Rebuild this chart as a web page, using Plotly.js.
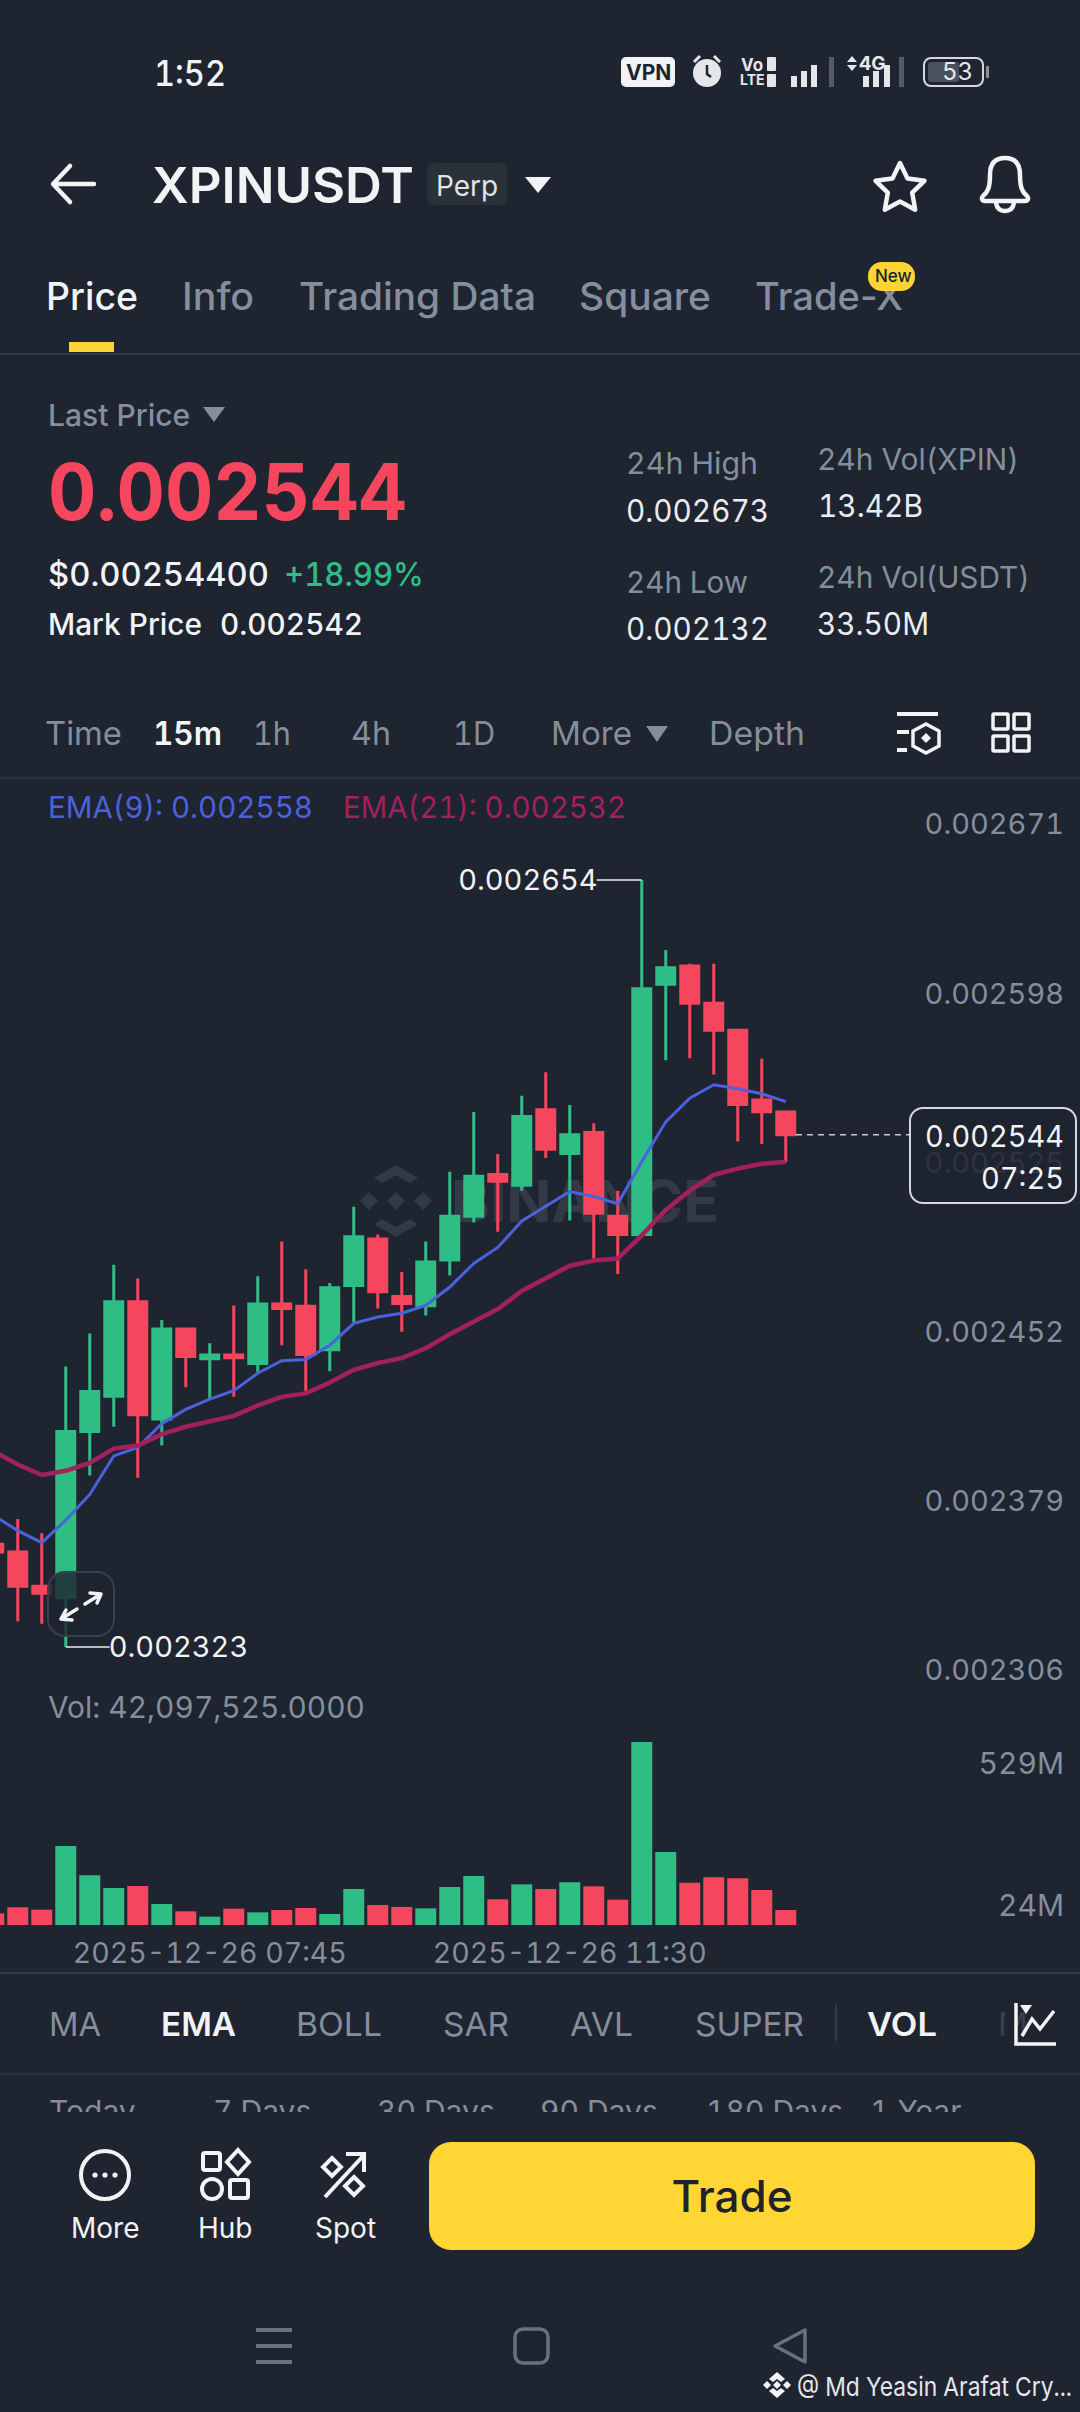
<!DOCTYPE html>
<html><head><meta charset="utf-8">
<script src="https://cdn.plot.ly/plotly-3.0.1.min.js"></script>
<style>
html,body{margin:0;padding:0;background:#1E2430;width:1080px;height:2412px;overflow:hidden}
#app{position:relative;width:1080px;height:2412px;background:#1E2430;font-family:Inter,"Noto Sans",sans-serif;overflow:hidden;font-feature-settings:"tnum" 1}
.t{position:absolute;white-space:nowrap;transform:translateY(-50%);line-height:1;transform-origin:left center}
.r{position:absolute}
svg{position:absolute;overflow:visible}
#chart{position:absolute;left:0;top:780px;width:1080px;height:1192px;z-index:2}
.ytick{transform:translateY(4px)}
.y2tick{transform:translateY(8px)}
</style></head><body>
<div id="app"><div id="chart"></div></div>
<script>
// ---------- chart data (prices in millionths of USDT, volumes in millions) ----------
const times = ["2025-12-26 05:30","2025-12-26 05:45","2025-12-26 06:00","2025-12-26 06:15","2025-12-26 06:30","2025-12-26 06:45","2025-12-26 07:00","2025-12-26 07:15","2025-12-26 07:30","2025-12-26 07:45","2025-12-26 08:00","2025-12-26 08:15","2025-12-26 08:30","2025-12-26 08:45","2025-12-26 09:00","2025-12-26 09:15","2025-12-26 09:30","2025-12-26 09:45","2025-12-26 10:00","2025-12-26 10:15","2025-12-26 10:30","2025-12-26 10:45","2025-12-26 11:00","2025-12-26 11:15","2025-12-26 11:30","2025-12-26 11:45","2025-12-26 12:00","2025-12-26 12:15","2025-12-26 12:30","2025-12-26 12:45","2025-12-26 13:00","2025-12-26 13:15","2025-12-26 13:30","2025-12-26 13:45"];
const openMicro  = [2367.3,2364,2349.2,2344.2,2416,2431.2,2472,2421.3,2460.2,2447.3,2449,2445.3,2471,2470,2451.2,2479,2499,2474.2,2470.2,2490,2508.9,2526.9,2522.2,2554.8,2535.9,2545,2508.9,2501,2609,2616.8,2600.8,2589.1,2559,2553.8];
const highMicro  = [2372,2378.2,2372,2444,2458.2,2487.9,2482,2464.1,2460.2,2454,2470.3,2483,2498,2486,2480,2512.9,2501,2484.8,2497.9,2528,2553.8,2535.7,2560.8,2571,2556.9,2549,2519.9,2654,2623.8,2617.8,2617.8,2589.1,2576.8,2553.8];
const lowMicro   = [2360,2334.1,2333,2323,2397,2418,2396,2409.9,2435.1,2429.7,2431,2441.6,2453.2,2433.4,2442,2463.1,2469,2459,2466,2483.3,2506.2,2502.2,2519.9,2534,2507,2490.6,2483.9,2501,2576.2,2577,2570,2541.1,2540,2532.2];
const closeMicro = [2364,2349.2,2346.2,2416,2433.2,2472,2423.2,2460.2,2448.3,2449,2447.8,2471,2469,2449.2,2478,2500,2476.3,2471.2,2489.1,2508.9,2526.1,2524,2551.9,2537.8,2544,2510.1,2501,2607,2616.1,2600.8,2589.1,2557.1,2554,2544];
const ema9Micro  = [2379.6,2373.2,2368,2377.7,2388.8,2405.4,2409.1,2419.3,2425.5,2429.9,2433.6,2441.1,2446.5,2447,2453.2,2462.6,2465.4,2467,2470.4,2478.3,2488.5,2495.4,2506.8,2513.2,2519.5,2517.4,2514.3,2532.4,2549.6,2559.8,2565.6,2563.9,2561.7,2558.3];
const ema21Micro = [2407.4,2401.7,2397.2,2399,2402.4,2408.6,2409.9,2414.8,2418,2420.5,2422.7,2427.2,2430.9,2432.4,2437.1,2442.6,2445.5,2447.6,2451.9,2457.9,2463.6,2468.8,2476.6,2482.3,2487.5,2489.7,2490.6,2500.6,2511.6,2519.9,2526.7,2529.4,2531.5,2532.4];
const volumeM    = [41.6,63,54.6,281.6,177,131.9,139,74.8,48.7,29.7,58.2,45.1,53.5,60.6,39.2,128.3,71.3,64.2,59.4,135.4,174.6,91.5,144.9,128.3,152.1,137.8,90.3,652.2,260.2,150.9,169.9,166.3,124.7,53.5];
const priceTicks = [0.002671,0.002598,0.002525,0.002452,0.002379,0.002306];
const priceTickLabels = ["0.002671","0.002598","0.002525","0.002452","0.002379","0.002306"];
const volumeTicks = [24e6,529e6];
const volumeTickLabels = ["24M","529M"];
const timeTicks = ["2025-12-26 07:45","2025-12-26 11:30"];
const timeTickLabels = ["2025-12-26 07:45","2025-12-26 11:30"];
const highLabel = {x:"2025-12-26 12:15", y:0.002654, text:"0.002654"};
const lowLabel  = {x:"2025-12-26 06:15", y:0.002323, text:"0.002323"};
const lastPrice = 0.002544;

const m = v => v/1e6;
const GREEN="#2EBD85", RED="#F6465D", GRAY="#848E9C", WHITE="#EAECEF", BLUE="#4B62DC", CRIM="#A3205F", YEL="#FCD535";

// ---------- app chrome ----------
const app=document.getElementById('app');
const T=(s,x,y,size,color,weight,extra,fitW)=>{const d=document.createElement('div');d.className='t';d.textContent=s;
 d.style.cssText=`left:${x}px;top:${y}px;font-size:${size}px;color:${color};font-weight:${weight||400};${extra||''}`;app.appendChild(d);
 if(fitW){const w=d.getBoundingClientRect().width;d.style.transform=`translateY(-50%) scaleX(${fitW/w})`;}
 return d;};
const R=(x,y,w,h,bg,rad,extra)=>{const d=document.createElement('div');d.className='r';
 d.style.cssText=`left:${x}px;top:${y}px;width:${w}px;height:${h}px;background:${bg};border-radius:${rad||0}px;${extra||''}`;app.appendChild(d);return d;};
const S=(html,z)=>{const w=document.createElement('div');w.innerHTML=`<svg width="1080" height="2412" style="left:0;top:0;${z?'z-index:'+z:''}">${html}</svg>`;app.appendChild(w.firstChild);};

// status bar
T("1:52",154,73,35,"#F2F3F5",500,"",72);
R(621,57,54,30,"#F2F3F5",5);T("VPN",626,72,21,"#1E2430",700);
T("Vo",741,65,17,"#E4E6EA",700);T("LTE",740,80,14,"#E4E6EA",700);R(767,57,9,14,"#E4E6EA",1);R(767,74,9,13,"#E4E6EA",1);
S(`<circle cx="707" cy="73" r="14" fill="#E4E6EA"/><path d="M707 65v9l4 3" stroke="#1E2430" stroke-width="2.5" fill="none"/>
<path d="M694 62l6-6M720 62l-6-6" stroke="#E4E6EA" stroke-width="3"/>
<rect x="791" y="76" width="6" height="11" fill="#E4E6EA"/><rect x="801" y="71" width="6" height="16" fill="#E4E6EA"/><rect x="811" y="65" width="6" height="22" fill="#E4E6EA"/><rect x="829" y="57" width="5" height="30" fill="#555B65"/>
<rect x="863" y="76" width="6" height="11" fill="#E4E6EA"/><rect x="873" y="71" width="6" height="16" fill="#E4E6EA"/><rect x="884" y="65" width="6" height="22" fill="#E4E6EA"/><rect x="899" y="57" width="5" height="30" fill="#555B65"/>
<path d="M847 62l5-6 5 6zM847 65l5 6 5-6z" fill="#E4E6EA"/>
<rect x="924" y="58" width="59" height="28" rx="7" fill="none" stroke="#D5D8DC" stroke-width="2"/><rect x="928" y="62" width="31" height="20" rx="3" fill="#4A505C"/><rect x="986" y="66" width="3" height="12" fill="#8a8f98"/>`);
T("4G",859,63,19,"#E4E6EA",700);
T("53",942,72,24,"#E4E6EA",400);

// title row
S(`<path d="M94 184H54M70 166L53 184L70 202" stroke="#F2F3F5" stroke-width="4.5" fill="none" stroke-linecap="round" stroke-linejoin="round"/>
<path d="M525 177h26l-13 16z" fill="#F2F3F5"/>
<path d="M900 163l7.5 15.5 17 2.3-12.3 11.9 3 17-15.2-8.1-15.2 8.1 3-17-12.3-11.9 17-2.3z" fill="none" stroke="#F2F3F5" stroke-width="4.5" stroke-linejoin="round"/>
<path d="M983 196c5-4 7-9 7-21 0-12 6-17 15-17s15 5 15 17c0 12 2 17 7 21 2 2 1 5-2 5h-40c-3 0-4-3-2-5zM996 203c1 6 5 8 9 8s8-2 9-8" fill="none" stroke="#F2F3F5" stroke-width="4.5" stroke-linejoin="round"/>`);
T("XPINUSDT",152,185,50,"#F2F3F5",600,"",262);
R(427,163,80,42,"#2B3139",6);T("Perp",436,186,28,"#E0E3E7",400);

// tabs
T("Price",46,296,38,"#F2F3F5",500,"",92);T("Info",182,296,38,GRAY,500,"",72);T("Trading Data",299,296,38,GRAY,500,"",237);
T("Square",579,296,38,GRAY,500,"",132);T("Trade-X",755,296,38,GRAY,500,'font-feature-settings:normal;',148);
R(868,262,47,29,YEL,14);T("New",875,276,17,"#1E2329",500);
R(69,342,45,10,YEL);R(0,353,1080,2,"#343A44");

// headline stats
T("Last Price",48,415,30,GRAY,500);
S(`<path d="M203 407h22l-11 15z" fill="${GRAY}"/>`);
T("0.002544",48,492,78,RED,700,"",359);
T("$0.00254400",48,575,32,"#F2F3F5",500,"",221);T("+18.99%",284,575,32,GREEN,500,"",140);
T("Mark Price",48,624,30,"#F2F3F5",500,"",154);T("0.002542",220,624,30,"#F2F3F5",500,"",143);
T("24h High",626,463,30,GRAY,400,"",132);T("0.002673",626,510,31,"#EAECEF",400,"",143);
T("24h Low",626,582,30,GRAY,400,"",122);T("0.002132",626,628,31,"#EAECEF",400,"",143);
T("24h Vol(XPIN)",817,459,30,GRAY,400,"",202);T("13.42B",818,505,31,"#EAECEF",400,"",105);
T("24h Vol(USDT)",817,577,30,GRAY,400,"",213);T("33.50M",817,623,31,"#EAECEF",400,"",112);

// interval row
T("Time",45,733,33,GRAY,400,"",77);T("15m",153,733,33,"#F2F3F5",600,"",69);T("1h",253,733,33,GRAY,400,"",38);T("4h",351,733,33,GRAY,400,"",40);
T("1D",453,733,33,GRAY,400,"",42);T("More",551,733,33,GRAY,400,"",81);T("Depth",709,733,33,GRAY,400,"",96);
S(`<path d="M646 726h22l-11 16z" fill="${GRAY}"/>
<path d="M897 714h41M897 732h12M897 750h10" stroke="#F2F3F5" stroke-width="4"/>
<path d="M926 724l13 7v15l-13 7-13-7v-15z" fill="none" stroke="#F2F3F5" stroke-width="3.5"/><path d="M926 733l5 5-5 5-5-5z" fill="#F2F3F5"/>
<g fill="none" stroke="#F2F3F5" stroke-width="3.5"><rect x="993" y="714" width="15" height="15" rx="1"/><rect x="1014" y="714" width="15" height="15" rx="1"/><rect x="993" y="736" width="15" height="15" rx="1"/><rect x="1014" y="736" width="15" height="15" rx="1"/></g>`);
R(0,777,1080,2,"#2C323C");

// watermark under the chart
S(`<g fill="#333A45"><path d="M396 1165l22 13-8 5-14-8-14 8-8-5z"/><path d="M396 1237l22-13-8-5-14 8-14-8-8 5z"/><path d="M396 1192l9 9-9 9-9-9z"/><path d="M369 1192l9 9-9 9-9-9z"/><path d="M423 1192l9 9-9 9-9-9z"/></g>`,1);
T("BINANCE",451,1201,58,"#333A45",700,"z-index:1;",268);

// legends
T("EMA(9): 0.002558",48,807,30,BLUE,400,"z-index:3;",265);
T("EMA(21): 0.002532",343,807,30,CRIM,400,"z-index:3;",283);
T("Vol: 42,097,525.0000",48,1707,30,GRAY,400,"z-index:3;",317);

// last price box + expand button
R(909,1107,168,97,"rgba(30,36,48,0.86)",14,"border:2px solid #D5D8DC;z-index:3;box-sizing:border-box;");
T("0.002544",925,1136,30,"#F2F3F5",400,"z-index:4;",139);
T("07:25",981,1178,30,"#F2F3F5",400,"z-index:4;",83);
R(47,1571,68,66,"rgba(30,36,48,0.82)",18,"border:2px solid #3A404B;z-index:3;box-sizing:border-box;");
S(`<path d="M85 1604l16-10M101 1594l-11-1M101 1594l-4 9M77 1609l-16 10M61 1619l11 1M61 1619l5-9" stroke="#F2F3F5" stroke-width="3.5" fill="none" stroke-linecap="round"/>`,4);

// indicator row
R(0,1972,1080,2,"#343A44");
T("MA",49,2024,33,GRAY,400,"",52);T("EMA",161,2024,33,"#F2F3F5",600,"",75);T("BOLL",296,2024,33,GRAY,400,"",86);T("SAR",443,2024,33,GRAY,400,"",66);
T("AVL",570,2024,33,GRAY,400,"",63);T("SUPER",695,2024,33,GRAY,400,"",109);T("VOL",867,2024,33,"#F2F3F5",600,"",70);T("M",998,2024,33,"#3A404B",400);
R(835,2005,2,36,"#343A44");R(1005,1995,9,60,"#1E2430");
S(`<path d="M1016 2003v41h40" stroke="#F2F3F5" stroke-width="3.5" fill="none"/><path d="M1022 2036l10-17 8 10 14-18" stroke="#F2F3F5" stroke-width="3.5" fill="none"/><path d="M1020 2005h12l-6 9z" fill="#F2F3F5"/>`);
R(0,2073,1080,2,"#2C323C");

// clipped range row
const clip=document.createElement('div');clip.style.cssText="position:absolute;left:0;top:2090px;width:1080px;height:22px;overflow:hidden;";app.appendChild(clip);
[["Today",49],["7 Days",213],["30 Days",377],["90 Days",540],["180 Days",706],["1 Year",870]].forEach(([s,x])=>{const d=document.createElement('div');d.textContent=s;
 d.style.cssText=`position:absolute;left:${x}px;top:6px;font-size:30px;line-height:1;color:${GRAY};white-space:nowrap;`;clip.appendChild(d);});

// action bar
S(`<circle cx="105" cy="2175" r="24" fill="none" stroke="#F2F3F5" stroke-width="4"/><circle cx="95" cy="2175" r="2.6" fill="#F2F3F5"/><circle cx="105" cy="2175" r="2.6" fill="#F2F3F5"/><circle cx="115" cy="2175" r="2.6" fill="#F2F3F5"/>
<g fill="none" stroke="#F2F3F5" stroke-width="4"><rect x="203" y="2153" width="17" height="17" rx="2"/><path d="M238 2150l11 12-11 12-11-12z"/><circle cx="212" cy="2189" r="10"/><rect x="230" y="2180" width="18" height="18" rx="2"/></g>
<g fill="none" stroke="#F2F3F5" stroke-width="4"><path d="M325 2197L364 2155M346 2154h18v18"/><path d="M332 2158l9 9-9 9-9-9z"/><path d="M354 2177l9 9-9 9-9-9z"/></g>`);
T("More",71,2228,28,"#F2F3F5",400);T("Hub",198,2228,28,"#F2F3F5",400);T("Spot",315,2228,28,"#F2F3F5",400);
R(429,2142,606,108,"#FFD633",22);
const tr=T("Trade",732,2196,44,"#1E2329",500);tr.style.transform="translate(-50%,-50%)";

// nav bar and credit
S(`<path d="M256 2330h36M256 2346h36M256 2362h36" stroke="#6B717B" stroke-width="4"/>
<rect x="515" y="2329" width="33" height="34" rx="8" fill="none" stroke="#6B717B" stroke-width="3.5"/>
<path d="M805 2330v32l-30-16z" fill="none" stroke="#6B717B" stroke-width="3.5" stroke-linejoin="round"/>
<g fill="#F2F3F5"><path d="M777 2372l8 7-4 3-4-3-4 3-4-3z"/><path d="M777 2398l8-7-4-3-4 3-4-3-4 3z"/><path d="M777 2381l4 4-4 4-4-4z"/><path d="M767 2381l4 4-4 4-4-4z"/><path d="M787 2381l4 4-4 4-4-4z"/></g>`);
T("@ Md Yeasin Arafat Cry...",797,2387,26,"#E4E6EA",400,"",275);

// ---------- the chart ----------
const plotTop=780, plotBottom=1925, H=plotBottom-plotTop;
const dom=(a,b)=>[(plotBottom-b)/H,(plotBottom-a)/H];
const gridFont={family:'Inter, "Noto Sans", sans-serif',size:29,color:GRAY};
const dir=closeMicro.map((c,i)=>c>=openMicro[i]?GREEN:RED);
const traces=[
 {type:'candlestick',x:times,open:openMicro.map(m),high:highMicro.map(m),low:lowMicro.map(m),close:closeMicro.map(m),
  xaxis:'x',yaxis:'y',whiskerwidth:0,
  increasing:{line:{color:GREEN,width:3},fillcolor:GREEN},decreasing:{line:{color:RED,width:3},fillcolor:RED},hoverinfo:'skip'},
 {type:'scatter',mode:'lines',x:times,y:ema9Micro.map(m),xaxis:'x',yaxis:'y',line:{color:BLUE,width:3},hoverinfo:'skip'},
 {type:'scatter',mode:'lines',x:times,y:ema21Micro.map(m),xaxis:'x',yaxis:'y',line:{color:CRIM,width:4.5},hoverinfo:'skip'},
 {type:'bar',x:times,y:volumeM.map(v=>v*1e6),xaxis:'x',yaxis:'y2',marker:{color:dir,line:{width:0}},hoverinfo:'skip'}
];
const layout={
 width:1080,height:1192,margin:{l:0,r:0,t:0,b:47,pad:0},paper_bgcolor:'rgba(0,0,0,0)',plot_bgcolor:'rgba(0,0,0,0)',
 showlegend:false,bargap:0.125,boxgap:0.25,boxgroupgap:0,
 font:gridFont,
 xaxis:{type:'date',anchor:'y2',domain:[0,1],range:["2025-12-26 05:33:54","2025-12-26 16:48:54"],
  tickvals:timeTicks,ticktext:timeTickLabels,tickfont:{...gridFont,size:28.5},showgrid:false,zeroline:false,showline:false,ticks:'',ticklabelstandoff:8,rangeslider:{visible:false}},
 yaxis:{domain:dom(790,1690),range:[0.0023044,0.0026928],side:'right',anchor:'x',tickmode:'array',tickvals:priceTicks,ticktext:priceTickLabels,
  ticklabelposition:'inside top',ticks:'',tickfont:gridFont,showgrid:false,zeroline:false,showline:false,ticklabelstandoff:13},
 yaxis2:{domain:dom(1725,1925),range:[0,712.8e6],side:'right',anchor:'x',tickmode:'array',tickvals:volumeTicks,ticktext:volumeTickLabels,
  ticklabelposition:'inside top',ticks:'',tickfont:{...gridFont,size:30},showgrid:false,zeroline:false,showline:false,ticklabelstandoff:13},
 annotations:[
  {x:highLabel.x,y:highLabel.y,xref:'x',yref:'y',text:highLabel.text,showarrow:true,arrowhead:0,arrowwidth:1.5,arrowcolor:WHITE,ax:-45,ay:0,standoff:0,xanchor:'right',font:{...gridFont,color:'#F2F3F5'}},
  {x:lowLabel.x,y:lowLabel.y,xref:'x',yref:'y',text:lowLabel.text,showarrow:true,arrowhead:0,arrowwidth:1.5,arrowcolor:WHITE,ax:44,ay:0,standoff:0,xanchor:'left',font:{...gridFont,color:'#F2F3F5'}}
 ],
 shapes:[{type:'line',xref:'paper',yref:'y',x0:796/1080,x1:909/1080,y0:lastPrice,y1:lastPrice,line:{color:'#C8CCD2',width:1.5,dash:'6px,5px'}}]
};
Plotly.newPlot('chart',traces,layout,{staticPlot:true,displayModeBar:false});
</script></body></html>
